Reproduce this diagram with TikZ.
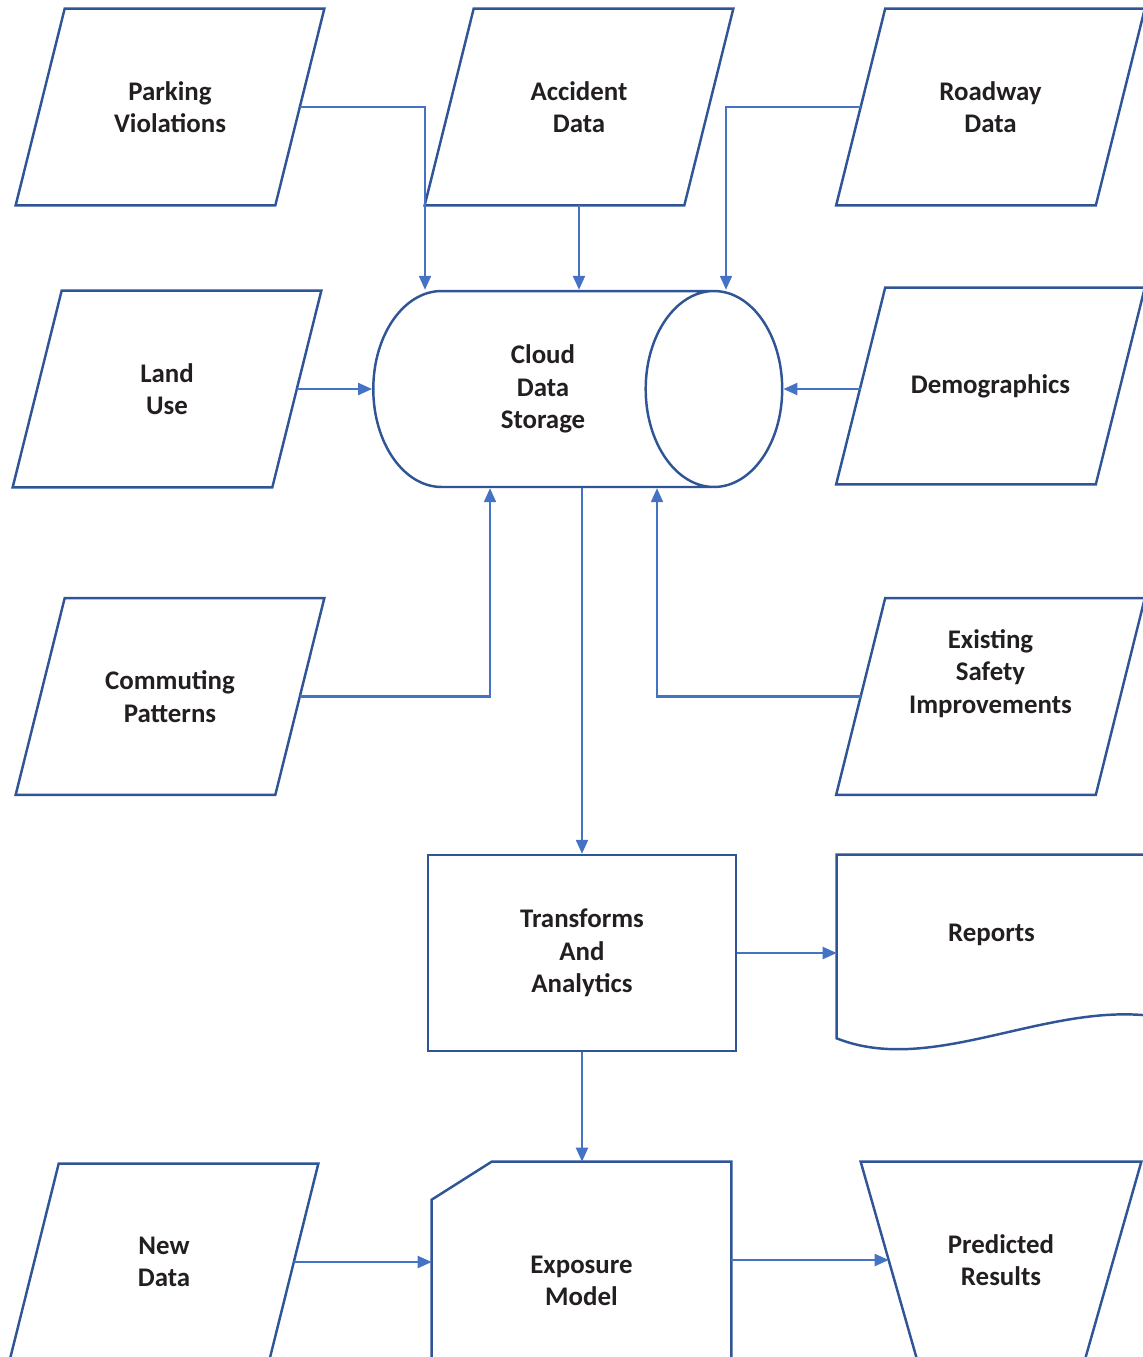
\documentclass[tikz,border=0pt]{standalone}
\usepackage{fontspec}
\setmainfont{Carlito}
\usepackage{tikz}
\usetikzlibrary{arrows.meta}
\usetikzlibrary{shapes.geometric}
\usetikzlibrary{calc,positioning}

\definecolor{shapeblue}{RGB}{47,85,151}
\definecolor{linkblue}{RGB}{68,114,196}
\definecolor{ink}{RGB}{35,31,32}
\newcommand{\boxfont}{\fontsize{15.3}{18.4}\selectfont\bfseries}

\begin{document}
\begin{tikzpicture}[x=0.02cm, y=-0.02cm, >={Triangle[length=0.28cm,width=0.24cm]},
    txt/.style={align=center, font=\boxfont, text=ink, inner sep=0pt},
    box/.style={txt, minimum width=5.18cm, minimum height=3.92cm},
    outline/.style={draw=shapeblue, line width=1.4pt},
    link/.style={->, draw=linkblue, line width=1.25pt}]
    \useasboundingbox (0,0) rectangle (1143,1357);

    % inputs
    \node[box] (park) at (170,107) {Parking\\Violations};
    \node[box] (acc) at (579,107) {Accident\\Data};
    \node[box] (road) at (990.5,107) {Roadway\\Data};
    \node[box] (land) at (167,389) {Land\\Use};
    \node[box] (demo) at (990.5,386) {Demographics};
    \node[box] (comm) at (170,696.5) {Commuting\\Patterns};
    \node[box] (exist) at (990.5,696.5) {};
    \node[txt] (existtxt) at (990.5,673.5) {Existing\\Safety\\Improvements};
    \node[box] (newd) at (164,1262) {New\\Data};

    \foreach \n in {park,acc,road,land,demo,comm,exist,newd}
        \draw[outline] ($(\n.north west)+(24.5,0)$) -- ($(\n.north east)+(24.5,0)$)
            -- ($(\n.south east)+(-24.5,0)$) -- ($(\n.south west)+(-24.5,0)$) -- cycle;

    % storage
    \node[cylinder, shape border rotate=0, aspect=1.55, outline, txt,
        minimum width=3.92cm, minimum height=8.18cm] (cyl) at (543,389) {Cloud\\Data\\Storage};

    % processing and outputs
    \node[txt, outline, minimum width=6.16cm, minimum height=3.92cm] (trans) at (582,953) {Transforms\\And\\Analytics};
    \node[txt, minimum width=6.18cm, minimum height=3.2cm] (rep) at (991.5,935) {Reports};
    \draw[outline] (rep.south east) -- (rep.north east) -- (rep.north west) -- ($(rep.south west)+(0,23)$)
        .. controls ($(rep.south west)+(93,60)$) and ($(rep.south east)+(-106,-10)$) .. (rep.south east);

    \node[txt, minimum width=5.98cm, minimum height=4.76cm] (model) at (581.5,1281) {Exposure\\Model};
    \draw[outline] ($(model.north west)+(60,0)$) -- (model.north east) -- (model.south east)
        -- (model.south west) -- ($(model.north west)+(0,38)$) -- cycle;

    \node[txt, minimum width=4.48cm, minimum height=3.92cm] (pred) at (1001,1260) {Predicted\\Results};
    \draw[outline] ($(pred.north west)+(-28,0)$) -- ($(pred.north east)+(28,0)$)
        -- ($(pred.south east)+(-28,0)$) -- ($(pred.south west)+(28,0)$) -- cycle;

    % connectors
    \draw[link] (park.east) -| ($(cyl.north)+(-118,0)$);
    \draw[link] (acc.south) -- (acc.south |- cyl.north);
    \draw[link] (road.west) -| ($(cyl.north)+(183,0)$);
    \draw[link] (land.east) -- (cyl.west);
    \draw[link] (demo.west |- cyl.east) -- (cyl.east);
    \draw[link] (comm.east) -| ($(cyl.south)+(-53,0)$);
    \draw[link] (exist.west) -| ($(cyl.south)+(114,0)$);
    \draw[link] (trans.north |- cyl.south) -- (trans.north);
    \draw[link] (trans.east) -- (trans.east -| rep.west);
    \draw[link] (trans.south) -- (trans.south |- model.north);
    \draw[link] (newd.east) -- (newd.east -| model.west);
    \draw[link] (model.east |- pred.west) -- (pred.west);
\end{tikzpicture}
\end{document}
